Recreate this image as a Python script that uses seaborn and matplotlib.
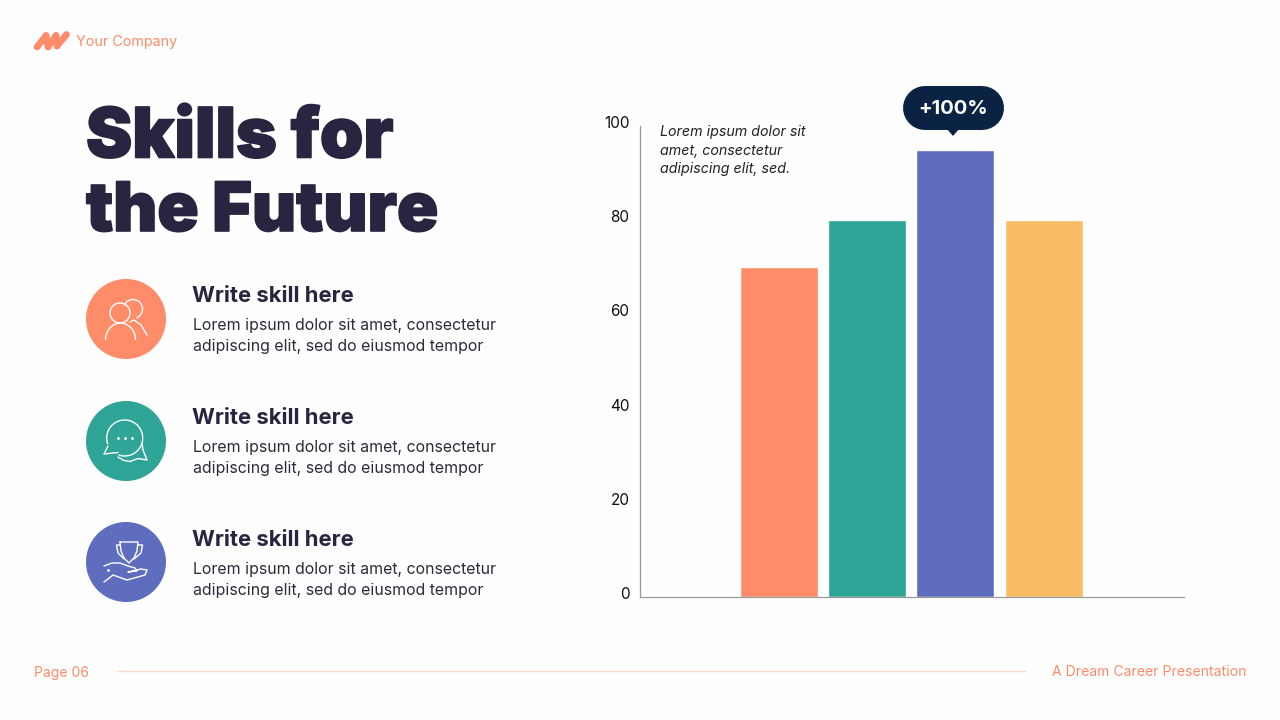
import numpy as np
import pandas as pd
import matplotlib
matplotlib.use("Agg")
import matplotlib.pyplot as plt
import matplotlib.patheffects as pe
from matplotlib.patches import Circle, Arc, Polygon
from matplotlib.transforms import ScaledTranslation
import seaborn as sns

# chart data
CATEGORIES = ["A", "B", "C", "D"]
VALUES = [70, 80, 95, 80]
BAR_COLORS = ["#FF8C69", "#2EA597", "#5F6DBF", "#FBBC66"]
Y_TICKS = [0, 20, 40, 60, 80, 100]

# slide text
TITLE_LINES = ["Skills for", "the Future"]
SKILL_HEAD = "Write skill here"
SKILL_BODY = ["Lorem ipsum dolor sit amet, consectetur", "adipiscing elit, sed do eiusmod tempor"]
NOTE_LINES = ["Lorem ipsum dolor sit", "amet, consectetur", "adipiscing elit, sed."]
CALLOUT = "+100%"
COMPANY = "Your Company"
PAGE = "Page 06"
FOOTER = "A Dream Career Presentation"

ORANGE = "#FF8C69"
DARK = "#2A2440"
NAVY = "#0B2343"
FONT = ["Inter", "DejaVu Sans"]

sns.set_theme(style="white")
plt.rcParams["font.family"] = FONT

fig = plt.figure(figsize=(12.8, 7.2), dpi=100, facecolor="#FEFEFE")

# overlay in pixel coordinates for the slide furniture
bg = fig.add_axes([0, 0, 1, 1])
bg.set_xlim(0, 1280)
bg.set_ylim(720, 0)
bg.axis("off")

# ============================
# chart
# ============================
ax = fig.add_axes([640 / 1280, 1 - 596.7 / 720, 543.5 / 1280, 470.4 / 720])
ax.patch.set_alpha(0)
df = pd.DataFrame({"cat": CATEGORIES, "val": VALUES})
sns.barplot(data=df, x="cat", y="val", hue="cat", palette=BAR_COLORS,
            width=0.885, legend=False, saturation=1, ax=ax)
ax.set_xlim(-1.575, 4.585)
ax.set_ylim(0, 100)
ax.set_xlabel("")
ax.set_ylabel("")
ax.set_xticks([])
ax.set_yticks(Y_TICKS)
ax.tick_params(axis="y", length=0, pad=7.5, labelsize=11, labelcolor="#111111")
shift = ScaledTranslation(0, 4 / 100, fig.dpi_scale_trans)
for lab in ax.get_yticklabels():
    lab.set_transform(lab.get_transform() + shift)
sns.despine(ax=ax)
for s in ["left", "bottom"]:
    ax.spines[s].set_color("#9A9A9A")
    ax.spines[s].set_linewidth(0.9)

# ============================
# text
# ============================
title_fx = [pe.withStroke(linewidth=1.2, foreground=DARK)]
bg.text(86, 139, TITLE_LINES[0], fontsize=50, fontweight="black", color=DARK, va="center",
        path_effects=title_fx)
bg.text(86, 213, TITLE_LINES[1], fontsize=49, fontweight="black", color=DARK, va="center",
        path_effects=title_fx)

for y0 in [294, 416, 538]:
    bg.text(192, y0 + 1.5, SKILL_HEAD, fontsize=15.9, fontweight="bold", color=DARK, va="center")
    bg.text(193, y0 + 31.5, SKILL_BODY[0], fontsize=11.45, color="#2B2B3A", va="center")
    bg.text(193, y0 + 53, SKILL_BODY[1], fontsize=11.45, color="#2B2B3A", va="center")

for i, line in enumerate(NOTE_LINES):
    bg.text(660, 132 + i * 18.5, line, fontsize=10.25, style="italic", color="#222222", va="center")

# callout pill
bg.plot([925, 982], [108, 108], color=NAVY, lw=44 * 0.72, solid_capstyle="round")
bg.add_patch(Polygon([[947, 129], [959, 129], [953, 136]], fc=NAVY, ec="none"))
bg.text(953, 108.5, CALLOUT, fontsize=14.5, fontweight="bold", color="white", ha="center", va="center")

# header and footer
bg.text(76, 42, COMPANY, fontsize=10.3, color=ORANGE, va="center")
bg.text(34, 672.5, PAGE, fontsize=10, color=ORANGE, va="center")
bg.text(1247, 671.5, FOOTER, fontsize=10.1, color=ORANGE, va="center", ha="right")
bg.plot([117, 1025], [671, 671], color="#FBD9CC", lw=1)

# logo strokes
for xs, ys in [([37, 46], [47, 35.5]), ([46, 48], [35.5, 47]), ([48, 56], [47, 35.5]),
               ([56, 57], [35.5, 46]), ([57, 66.5], [46, 34.5])]:
    bg.plot(xs, ys, color=ORANGE, lw=4.8, solid_capstyle="round")

# ============================
# icons
# ============================
bg.add_patch(Circle((126, 319), 40, fc=BAR_COLORS[0], ec="none"))
bg.add_patch(Circle((126, 441), 40, fc=BAR_COLORS[1], ec="none"))
bg.add_patch(Circle((126, 562), 40, fc=BAR_COLORS[2], ec="none"))

# people
bg.add_patch(Circle((120, 313), 10, ec="white", fc="none", lw=1))
bg.add_patch(Arc((133, 309), 19, 19, theta1=200, theta2=430, ec="white", lw=1))
bg.add_patch(Arc((120.5, 340), 30, 34, theta1=180, theta2=360, ec="white", lw=1))
bg.plot([130, 134, 141, 147], [322, 320, 325, 335], color="white", lw=1)

# chat
bg.add_patch(Arc((124.7, 438), 36, 36, theta1=160, theta2=470, ec="white", lw=1))
bg.plot([108, 104, 118], [446, 454, 452.5], color="white", lw=1)
bg.plot([118, 124, 130, 138, 147, 143, 142], [457, 460.5, 461.5, 458.5, 460, 450, 443],
        color="white", lw=1)
bg.scatter([118, 125, 132], [438, 438, 438], s=4, color="white", linewidths=0)

# trophy and hand
bg.plot([120, 121, 124, 129, 134, 137, 138, 120], [542, 551, 558, 563, 558, 551, 542, 542],
        color="white", lw=1)
bg.plot([120, 116.5, 118, 124], [545, 545, 553, 559], color="white", lw=1)
bg.plot([138, 142.5, 141, 134], [545, 545, 553, 559], color="white", lw=1)
bg.plot([104, 112, 120, 128, 135, 137, 128, 141, 147, 145, 127, 113, 104],
        [566, 563, 563, 566, 568, 571, 572, 569, 570, 575, 580, 575, 582],
        color="white", lw=1)
bg.scatter([108], [570], s=4, color="white", linewidths=0)

fig.savefig("out.png", dpi=100, facecolor=fig.get_facecolor())
